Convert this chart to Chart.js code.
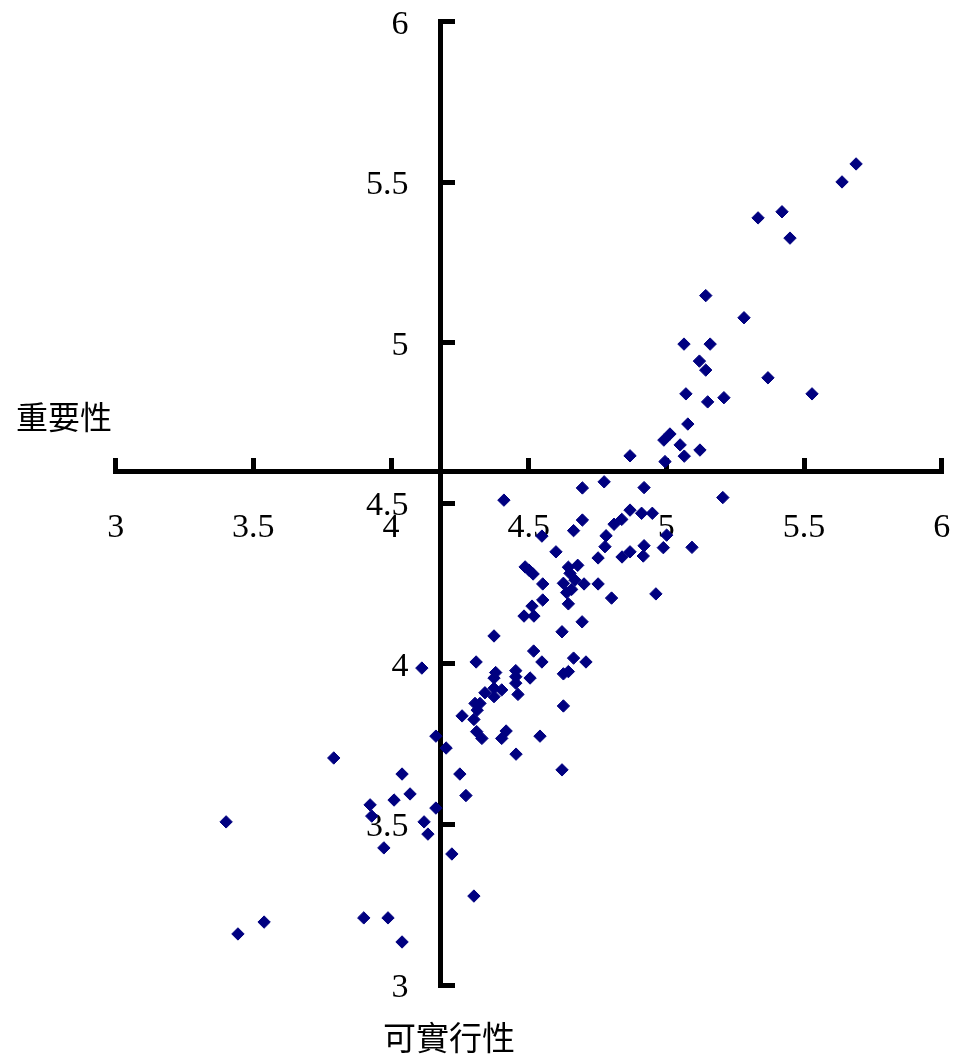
<!DOCTYPE html>
<html><head><meta charset="utf-8">
<script src="https://cdn.jsdelivr.net/npm/chart.js@4"></script>
<style>html,body{margin:0;padding:0;background:#fff;}#wrap{width:959px;height:1057px;position:relative;}</style>
</head><body><div id="wrap"><canvas id="c"></canvas></div>
<script>
// 可實行性 (horizontal) values
const feasibility = [
  5.689,5.638,5.420,5.333,5.449,5.143,5.282,5.064,5.159,5.120,5.143,5.369,5.529,5.071,5.150,5.209,5.078,5.013,4.991,5.050,5.065,5.122,4.868,4.995,4.774,4.919,5.205,4.868,4.910,4.949,4.838,4.810,5.001,4.781,4.777,4.919,4.989,5.093,4.868,4.916,4.839,
  4.410,4.695,4.695,4.663,4.548,4.599,4.752,4.487,4.501,4.516,4.644,4.678,4.650,4.551,4.626,4.701,4.752,4.656,4.638,4.551,4.801,4.962,4.512,4.644,4.483,4.519,4.694,4.621,4.374,4.518,4.668,
  4.112,4.309,4.548,4.663,4.708,4.380,4.374,4.453,4.453,4.453,4.505,4.461,4.626,4.644,4.341,4.374,4.402,4.374,4.323,4.305,4.313,4.301,4.258,4.626,4.311,4.330,4.418,4.402,4.541,4.163,4.200,4.454,4.621,4.250,4.272,4.040,4.069,4.163,
  3.792,4.011,3.924,3.930,4.120,4.134,3.401,3.974,4.221,4.301,3.901,3.989,3.539,3.444,4.040
];
// 重要性 (vertical) values
const importance = [
  5.557,5.501,5.408,5.389,5.326,5.147,5.078,4.996,4.996,4.943,4.915,4.891,4.841,4.841,4.816,4.829,4.747,4.716,4.697,4.682,4.647,4.666,4.648,4.630,4.567,4.549,4.518,4.479,4.469,4.469,4.450,4.435,4.401,4.399,4.365,4.368,4.362,4.363,4.349,4.336,4.333,
  4.510,4.548,4.448,4.415,4.398,4.349,4.330,4.302,4.292,4.280,4.301,4.307,4.282,4.249,4.251,4.249,4.249,4.232,4.222,4.199,4.205,4.218,4.180,4.187,4.149,4.149,4.131,4.100,4.087,4.040,4.261,
  3.987,4.006,4.006,4.018,4.006,3.973,3.956,3.979,3.960,3.940,3.956,3.905,3.969,3.976,3.910,3.924,3.919,3.898,3.877,3.877,3.856,3.827,3.838,3.869,3.789,3.768,3.791,3.768,3.775,3.775,3.738,3.719,3.670,3.657,3.590,3.657,3.595,3.551,
  3.707,3.576,3.561,3.526,3.508,3.470,3.508,3.427,3.408,3.277,3.209,3.209,3.196,3.159,3.134
];
const xTicks = [3, 3.5, 4, 4.5, 5, 5.5, 6];
const xTickLabels = ['3', '3.5', '4', '4.5', '5', '5.5', '6'];
const yTicks = [3, 3.5, 4, 4.5, 5, 5.5, 6];
const yTickLabels = ['3', '3.5', '4', '4.5', '5', '5.5', '6'];
const xTitle = '可實行性';
const yTitle = '重要性';
const crossX = 4.18;   // where the vertical axis crosses
const crossY = 4.6;    // where the horizontal axis crosses

const points = feasibility.map((x, i) => ({x: x, y: importance[i]}));
const numFont = '"Liberation Serif", "Times New Roman", serif';

const yLabelPlugin = {
  id: 'yLabels',
  beforeDatasetsDraw(chart) {
    const ctx = chart.ctx, ys = chart.scales.y, xs = chart.scales.x;
    const ax = xs.getPixelForValue(crossX);
    ctx.save();
    ctx.font = '34px ' + numFont;
    ctx.fillStyle = '#000';
    ctx.textAlign = 'right';
    ctx.textBaseline = 'middle';
    ys.ticks.forEach((t, i) => {
      ctx.fillText(yTickLabels[i], ax - 32, ys.getPixelForValue(t.value) + 3);
    });
    ctx.restore();
  }
};
const titlePlugin = {
  id: 'titles',
  afterDraw(chart) {
    const ctx = chart.ctx;
    ctx.save();
    ctx.fillStyle = '#000';
    ctx.textAlign = 'center';
    ctx.textBaseline = 'middle';
    ctx.font = '32px "Noto Sans CJK TC", "Noto Sans CJK SC", sans-serif';
    ctx.fillText(yTitle, 64, 417);
    ctx.font = '33px "Noto Sans CJK TC", "Noto Sans CJK SC", sans-serif';
    ctx.fillText(xTitle, 449, 1037);
    ctx.restore();
  }
};
const zeroPad = s => { s.paddingLeft = 0; s.paddingRight = 0; s.paddingTop = 0; s.paddingBottom = 0; };

new Chart(document.getElementById('c'), {
  type: 'scatter',
  data: {
    datasets: [{
      data: points,
      pointStyle: 'rectRot',
      pointRadius: 6.2,
      pointHoverRadius: 6.2,
      pointBorderWidth: 1,
      backgroundColor: '#000080',
      borderColor: '#000080'
    }]
  },
  plugins: [yLabelPlugin, titlePlugin],
  options: {
    responsive: true,
    maintainAspectRatio: false,
    animation: false,
    events: [],
    layout: {padding: {left: 115.7, right: 17.3, top: 21.7, bottom: 72}},
    plugins: {legend: {display: false}, tooltip: {enabled: false}, title: {display: false}},
    scales: {
      x: {
        type: 'linear',
        min: 3, max: 6,
        position: {y: crossY},
        afterBuildTicks: s => { s.ticks = xTicks.map(v => ({value: v})); },
        afterFit: zeroPad,
        border: {display: true, width: 5, color: '#000'},
        grid: {drawOnChartArea: false, drawTicks: true, tickLength: -16, lineWidth: 5, color: '#000'},
        ticks: {autoSkip: false, maxRotation: 0, padding: 52, color: '#000', font: {family: numFont, size: 34},
                callback: (v, i) => xTickLabels[i]}
      },
      y: {
        type: 'linear',
        min: 3, max: 6,
        position: {x: crossX},
        afterBuildTicks: s => { s.ticks = yTicks.map(v => ({value: v})); },
        afterFit: zeroPad,
        border: {display: true, width: 5, color: '#000'},
        grid: {drawOnChartArea: false, drawTicks: true, tickLength: -17, lineWidth: 5, color: '#000'},
        ticks: {display: false, autoSkip: false, color: '#000', font: {family: numFont, size: 34},
                callback: (v, i) => yTickLabels[i]}
      }
    }
  }
});
</script>
</body></html>
